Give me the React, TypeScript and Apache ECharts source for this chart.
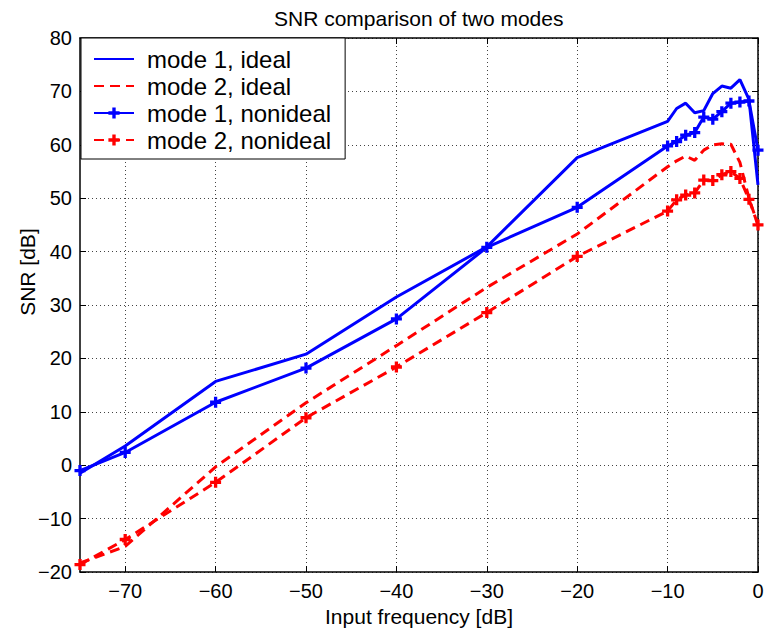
import React, { useEffect, useRef } from "react";
import * as echarts from "echarts";

const inputLevels = [-75, -70, -60, -50, -40, -30, -20, -10, -9, -8, -7, -6, -5, -4, -3, -2, -1, 0];
const mode1Ideal = [-1.5, 3.6, 15.7, 20.8, 31.5, 40.9, 57.6, 64.4, 66.8, 67.8, 66.0, 66.4, 69.6, 71.0, 70.6, 72.2, 68.5, 52.5];
const mode2Ideal = [-18.3, -15.2, -0.3, 11.7, 22.4, 33.3, 43.3, 55.9, 57.0, 57.9, 57.1, 59.0, 60.0, 60.2, 60.1, 56.7, 50.0, 45.0];
const mode1Nonideal = [-1.0, 2.4, 11.8, 18.2, 27.4, 40.8, 48.3, 59.8, 60.6, 61.8, 62.3, 65.2, 64.8, 66.2, 67.8, 68.0, 68.2, 59.0];
const mode2Nonideal = [-18.6, -13.9, -3.2, 8.9, 18.4, 28.6, 39.1, 47.6, 49.7, 50.6, 51.0, 53.4, 53.3, 54.4, 55.0, 53.7, 49.8, 45.0];
const seriesNames = ["mode 1, ideal", "mode 2, ideal", "mode 1, nonideal", "mode 2, nonideal"];
const xTicks = [-70, -60, -50, -40, -30, -20, -10, 0];
const titleText = "SNR comparison of two modes";
const xLabel = "Input frequency [dB]";
const yLabel = "SNR [dB]";

const FONT = "Liberation Sans, Arial, Helvetica, sans-serif";
const PLUS = "path://M3.5,0H6.5V3.5H10V6.5H6.5V10H3.5V6.5H0V3.5H3.5Z";

const fmt = (v: number) => (v < 0 ? "\u2212" + Math.abs(v) : String(v));
const pairs = (ys: number[]) => inputLevels.map((x, i) => [x, ys[i]]);

function textWidth(text: string, size: number) {
  const ctx = document.createElement("canvas").getContext("2d");
  if (!ctx) return text.length * size * 0.5;
  ctx.font = `${size}px ${FONT}`;
  return ctx.measureText(text).width;
}

export default function App() {
  const ref = useRef<HTMLDivElement>(null);
  useEffect(() => {
    if (!ref.current) return;
    const chart = echarts.init(ref.current, undefined, { renderer: "svg" });
    const gridLine = { show: true, lineStyle: { color: "#444", width: 1, type: [1, 3] as any } };
    const axisLine = { show: true, onZero: false, lineStyle: { color: "#000", width: 1.5 } };
    const tick = { show: true, inside: true, length: 6, lineStyle: { color: "#000", width: 1 } };
    const lineBase = { type: "line" as const, xAxisIndex: 0, yAxisIndex: 0, symbolKeepAspect: true };
    const titleSize = 21;
    const tw = textWidth(titleText, titleSize);
    chart.setOption({
      animation: false,
      backgroundColor: "#fff",
      textStyle: { fontFamily: FONT },
      grid: { left: 80, right: 10, top: 38, bottom: 59, containLabel: false },
      title: {
        text: titleText,
        left: Math.round(419 - tw / 2),
        top: 8,
        padding: 0,
        textStyle: { fontSize: titleSize, fontWeight: "normal", color: "#000", fontFamily: FONT },
      },
      xAxis: [
        {
          type: "value",
          min: -75,
          max: 0,
          position: "bottom",
          name: xLabel,
          nameLocation: "middle",
          nameGap: 32,
          nameTextStyle: { fontSize: 21, color: "#000", fontFamily: FONT },
          axisLine,
          axisTick: { ...tick, customValues: xTicks },
          axisLabel: { customValues: xTicks, formatter: fmt, fontSize: 20, color: "#000", margin: 9, fontFamily: FONT },
          splitLine: gridLine,
        },
        {
          type: "value",
          min: -75,
          max: 0,
          position: "top",
          axisLine,
          axisTick: { ...tick, customValues: xTicks },
          axisLabel: { show: false, customValues: xTicks },
          splitLine: { show: false },
        },
      ],
      yAxis: [
        {
          type: "value",
          min: -20,
          max: 80,
          interval: 10,
          position: "left",
          name: yLabel,
          nameLocation: "middle",
          nameRotate: 90,
          nameGap: 42,
          nameMoveOverlap: false,
          nameTextStyle: { fontSize: 21, color: "#000", fontFamily: FONT, padding: [0, 0, 0, 66] },
          axisLine,
          axisTick: tick,
          axisLabel: { formatter: fmt, fontSize: 20, color: "#000", margin: 8, fontFamily: FONT },
          splitLine: gridLine,
        },
        {
          type: "value",
          min: -20,
          max: 80,
          interval: 10,
          position: "right",
          axisLine,
          axisTick: tick,
          axisLabel: { show: false },
          splitLine: { show: false },
        },
      ],
      legend: {
        left: 81,
        top: 38,
        orient: "vertical",
        backgroundColor: "#fff",
        borderColor: "#000",
        borderWidth: 1,
        borderRadius: 0,
        padding: [9, 14, 7, 12],
        itemWidth: 40,
        itemHeight: 14,
        itemGap: 3,
        textStyle: { fontSize: 24, color: "#000", fontFamily: FONT, padding: [0, 0, 0, 8] },
        data: [
          { name: seriesNames[0], itemStyle: { opacity: 0 } },
          { name: seriesNames[1], itemStyle: { opacity: 0 } },
          { name: seriesNames[2] },
          { name: seriesNames[3] },
        ],
      },
      series: [
        {
          ...lineBase,
          name: seriesNames[0],
          data: pairs(mode1Ideal),
          symbol: "none",
          lineStyle: { color: "#0000ff", width: 3 },
          itemStyle: { color: "#0000ff" },
        },
        {
          ...lineBase,
          name: seriesNames[1],
          data: pairs(mode2Ideal),
          symbol: "none",
          lineStyle: { color: "#ff0000", width: 3, type: [10, 6] },
          itemStyle: { color: "#ff0000" },
        },
        {
          ...lineBase,
          name: seriesNames[2],
          data: pairs(mode1Nonideal),
          symbol: PLUS,
          symbolSize: 11,
          showSymbol: true,
          lineStyle: { color: "#0000ff", width: 3 },
          itemStyle: { color: "#0000ff", borderWidth: 0 },
        },
        {
          ...lineBase,
          name: seriesNames[3],
          data: pairs(mode2Nonideal),
          symbol: PLUS,
          symbolSize: 11,
          showSymbol: true,
          lineStyle: { color: "#ff0000", width: 3, type: [10, 6] },
          itemStyle: { color: "#ff0000", borderWidth: 0 },
        },
      ],
    });
    return () => chart.dispose();
  }, []);
  return <div ref={ref} style={{ position: "fixed", left: 0, top: 0, width: 768, height: 632 }} />;
}
